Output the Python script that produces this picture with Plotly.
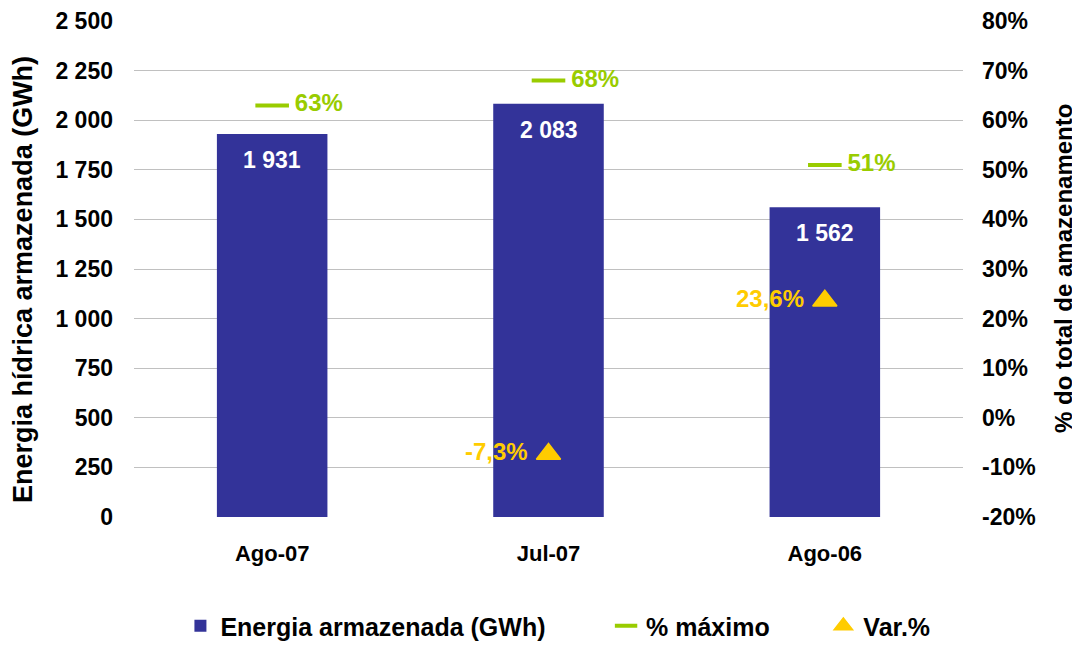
import plotly.graph_objects as go

categories = ["Ago-07", "Jul-07", "Ago-06"]
energia_gwh = [1931, 2083, 1562]
pct_maximo = [63, 68, 51]
var_cat = ["Jul-07", "Ago-06"]
var_pct = [-7.3, 23.6]
left_ticks = [0, 250, 500, 750, 1000, 1250, 1500, 1750, 2000, 2250, 2500]
right_ticks = [-20, -10, 0, 10, 20, 30, 40, 50, 60, 70, 80]

FONT = "Liberation Sans"
BLUE = "#333399"
GREEN = "#99CC00"
YELLOW = "#FFCC00"
NB = "\u00a0"


def fmt_int(v):
    return f"{v:,}".replace(",", " ")


def fmt_pct(v, dec=0):
    s = f"{v:.{dec}f}".replace(".", ",")
    return s + "%"


fig = go.Figure()

fig.add_trace(go.Bar(
    x=categories, y=energia_gwh, name="Energia armazenada (GWh)" + NB * 8,
    marker=dict(color=BLUE, line=dict(width=0)), width=0.4,
    hoverinfo="skip",
))

fig.add_trace(go.Scatter(
    x=categories, y=pct_maximo, yaxis="y2", name="% máximo" + NB * 7,
    mode="markers+text",
    marker=dict(symbol="line-ew", size=24, color=GREEN,
                line=dict(color=GREEN, width=4)),
    text=[NB + fmt_pct(v) for v in pct_maximo], textposition="middle right",
    textfont=dict(family=FONT, size=24, color=GREEN, weight="bold"),
    hoverinfo="skip",
))

fig.add_trace(go.Scatter(
    x=var_cat, y=var_pct, yaxis="y2", name="Var.%",
    mode="markers+text",
    marker=dict(symbol="triangle-up", size=21, color=YELLOW,
                line=dict(color=YELLOW, width=1.5)),
    text=[fmt_pct(v, 1) + NB for v in var_pct], textposition="middle left",
    textfont=dict(family=FONT, size=24, color=YELLOW, weight="bold"),
    hoverinfo="skip",
))

annotations = []
for c, v in zip(categories, energia_gwh):
    annotations.append(dict(
        x=c, y=v, xref="x", yref="y", text=fmt_int(v), showarrow=False,
        yanchor="middle", yshift=-26,
        font=dict(family=FONT, size=23, color="white", weight="bold"),
    ))

annotations.append(dict(
    x=0, y=0.5, xref="paper", yref="paper", xshift=-111, yshift=-11,
    text="Energia hídrica armazenada (GWh)", textangle=-90, showarrow=False,
    xanchor="center", yanchor="middle",
    font=dict(family=FONT, size=27, color="black", weight="bold"),
))
annotations.append(dict(
    x=1, y=0.5, xref="paper", yref="paper", xshift=100,
    text="% do total de amazenamento", textangle=-90, showarrow=False,
    xanchor="center", yanchor="middle",
    font=dict(family=FONT, size=24, color="black", weight="bold"),
))

fig.update_layout(
    width=1072, height=638,
    margin=dict(l=126, r=117, t=13, b=129, autoexpand=False),
    paper_bgcolor="white", plot_bgcolor="white",
    showlegend=True,
    legend=dict(
        orientation="h", x=0.056, y=-0.22, xanchor="left", yanchor="middle",
        font=dict(family=FONT, size=25, color="black", weight="bold"),
        itemwidth=30, traceorder="normal",
    ),
    xaxis=dict(
        categoryorder="array", categoryarray=categories,
        showgrid=False, showline=False, zeroline=False, ticks="",
        tickfont=dict(family=FONT, size=22, color="black", weight="bold"),
        ticklabelstandoff=21,
    ),
    yaxis=dict(
        range=[-0.6, 2500.6], tickvals=left_ticks,
        ticktext=[fmt_int(v) for v in left_ticks],
        showgrid=True, gridcolor="#C0C0C0", gridwidth=1,
        zeroline=False, showline=False, ticks="",
        tickfont=dict(family=FONT, size=23, color="black", weight="bold"),
        ticklabelstandoff=20,
    ),
    yaxis2=dict(
        overlaying="y", side="right", range=[-20.024, 80.024],
        tickvals=right_ticks,
        ticktext=[fmt_pct(v) for v in right_ticks],
        showgrid=False, zeroline=False, showline=False, ticks="",
        tickfont=dict(family=FONT, size=23, color="black", weight="bold"),
        ticklabelstandoff=18,
    ),
    annotations=annotations,
    font=dict(family=FONT),
)

fig.write_html("out.html")
